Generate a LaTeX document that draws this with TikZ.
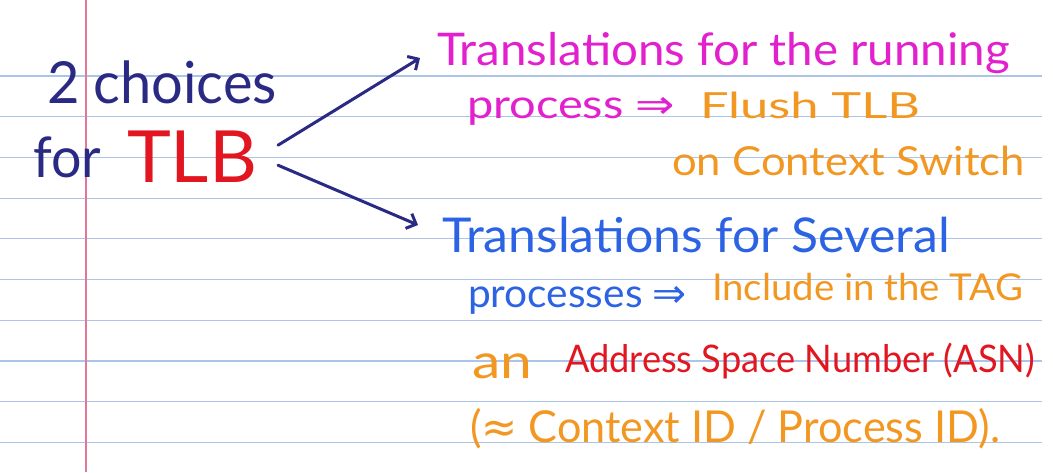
\documentclass[tikz,border=0pt]{standalone}
\usepackage{fontspec}
\usepackage{graphicx}
\setmainfont{Lato}
\newfontfamily\symfont{DejaVu Sans}
\usetikzlibrary{arrows.meta}

\definecolor{ink}{RGB}{42,42,132}
\definecolor{magentaink}{RGB}{226,32,206}
\definecolor{orangeink}{RGB}{242,152,34}
\definecolor{blueink}{RGB}{44,98,228}
\definecolor{redink}{RGB}{226,22,32}
\definecolor{ruleblue}{RGB}{172,196,230}
\definecolor{marginred}{RGB}{228,118,150}

% set a line of text at a given size and stretch it to a given width
\newcommand{\handline}[3]{\resizebox{#2pt}{\height}{\fontsize{#1}{#1}\selectfont #3}}

\begin{document}
\begin{tikzpicture}[x=1pt,y=-1pt,
  hand/.style={inner sep=0pt, outer sep=0pt, anchor=base west},
  rulingline/.style={ruleblue, line width=1.2pt},
  marginline/.style={marginred, line width=1.3pt},
  choicearrow/.style={ink, line width=3pt, line cap=round,
    -{Straight Barb[length=8pt,width=16pt,line width=3pt]}}]

% paper
\fill[white] (0,0) rectangle (1053,472);
\useasboundingbox (0,0) rectangle (1053,472);
\foreach \k in {0,...,9}
  \draw[rulingline] (0,{76+40.7*\k}) -- (1042,{76+40.7*\k});
\draw[marginline] (86,0) -- (86,472);

% left heading
\node[hand, text=ink] (two) at (47,103) {\handline{58}{230}{2 choices}};
\node[hand, text=ink] (for) at (33,177) {\handline{56}{68}{for}};
\node[hand, text=redink] (TLB) at (127,182) {\handline{72}{130}{TLB}};

% first choice
\node[hand, text=magentaink] (t1) at (437,65)
  {\handline{45}{573}{Translations for the running}};
\node[hand, text=magentaink] (t2) at (467,118)
  {\handline{40}{208}{process {\symfont ⇒}}};
\node[hand, text=orangeink] (t3) at (700,118)
  {\handline{36}{220}{Flush TLB}};
\node[hand, text=orangeink] (t4) at (672,175)
  {\handline{40}{353}{on Context Switch}};

% second choice
\node[hand, text=blueink] (t5) at (442,252)
  {\handline{48}{508}{Translations for Several}};
\node[hand, text=blueink] (t6) at (468,307)
  {\handline{40}{219}{processes {\symfont ⇒}}};
\node[hand, text=orangeink] (t7) at (712,300)
  {\handline{37}{311}{Include in the TAG}};
\node[hand, text=orangeink] (t8) at (472,378)
  {\handline{48}{60}{an}};
\node[hand, text=redink] (t9) at (565,372)
  {\handline{38}{470}{Address Space Number (ASN)}};
\node[hand, text=orangeink] (t10) at (470,442)
  {\handline{44}{530}{({\symfont ≈} Context ID / Process ID).}};

% the two choices
\draw[choicearrow] ([shift={(21,-11)}]TLB.east) -- ([shift={(-17,-7)}]t1.base west);
\draw[choicearrow] ([shift={(21,9)}]TLB.east) -- ([shift={(-24,-27)}]t5.base west);
\end{tikzpicture}
\end{document}
